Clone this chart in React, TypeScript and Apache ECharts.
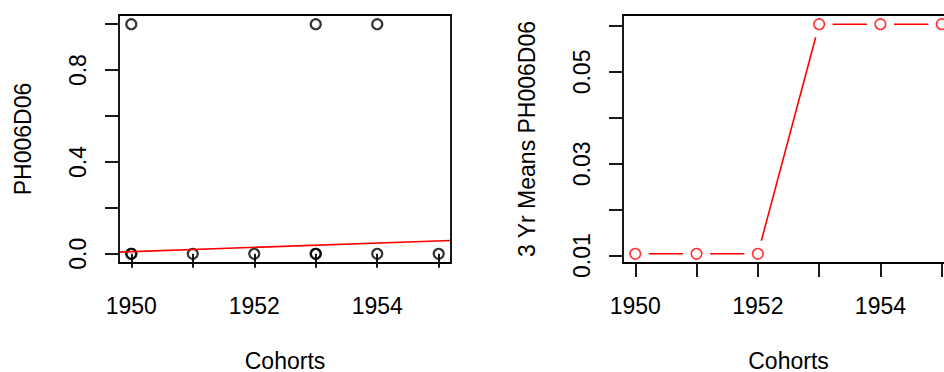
import React, { useEffect, useRef } from "react";
import * as echarts from "echarts";

// ---- data ----
const years = [1950, 1951, 1952, 1953, 1954, 1955];
const xLabelYears = [1950, 1952, 1954];

// left panel: individual observations
const cohortX = [1950, 1950, 1950, 1951, 1952, 1953, 1953, 1953, 1954, 1954, 1955];
const ph006d06 = [0, 0, 1, 0, 0, 0, 0, 1, 0, 1, 0];
// fitted regression line (value at 1950 and slope per year)
const fitAt1950 = 0.0093;
const fitSlope = 0.0094;
const leftYTicks = [0, 0.2, 0.4, 0.6, 0.8, 1.0];
const leftYLabels = [0, 0.4, 0.8];

// right panel: 3-year means
const threeYrMeans = [0.0104, 0.0104, 0.0104, 0.0604, 0.0604, 0.0604];
const rightYTicks = [0.01, 0.02, 0.03, 0.04, 0.05, 0.06];
const rightYLabels = [0.01, 0.03, 0.05];

const FONT = "Liberation Sans, Arial, Helvetica, sans-serif";
const FS = 23;
const AXIS_W = 1.8;

export default function App() {
  const ref = useRef<HTMLDivElement>(null);

  useEffect(() => {
    document.body.style.margin = "0";
    if (!ref.current) return;
    const chart = echarts.init(ref.current, null, { renderer: "svg" });

    const xMin = 1949.8;
    const xMax = 1955.2;

    const xAxisBase = (gridIndex: number) => ({
      type: "value" as const,
      gridIndex,
      min: xMin,
      max: xMax,
      z: 10,
      name: "Cohorts",
      nameLocation: "middle" as const,
      nameGap: 86,
      nameTextStyle: { fontSize: FS, fontFamily: FONT, color: "#000" },
      axisLine: { show: false },
      splitLine: { show: false },
      axisTick: {
        show: true,
        inside: false,
        length: 14,
        lineStyle: { color: "#000", width: AXIS_W },
        customValues: years,
      },
      axisLabel: {
        show: true,
        margin: 31,
        fontSize: FS,
        fontFamily: FONT,
        color: "#000",
        customValues: xLabelYears,
        formatter: (v: number) => String(Math.round(v)),
      },
    });

    const yAxisBase = (
      gridIndex: number,
      min: number,
      max: number,
      ticks: number[],
      labels: number[],
      digits: number,
      name: string
    ) => ({
      type: "value" as const,
      gridIndex,
      min,
      max,
      z: 10,
      name,
      nameLocation: "middle" as const,
      nameGap: 85,
      nameRotate: 90,
      nameTextStyle: { fontSize: FS, fontFamily: FONT, color: "#000" },
      axisLine: { show: false },
      splitLine: { show: false },
      axisTick: {
        show: true,
        inside: false,
        length: 14,
        lineStyle: { color: "#000", width: AXIS_W },
        customValues: ticks,
      },
      axisLabel: {
        show: true,
        rotate: 90,
        margin: 30,
        fontSize: FS,
        fontFamily: FONT,
        color: "#000",
        customValues: labels,
        formatter: (v: number) => v.toFixed(digits),
      },
    });

    const gridStyle = {
      show: true,
      borderColor: "#000",
      borderWidth: AXIS_W,
      backgroundColor: "transparent",
      z: 10,
      containLabel: false,
      outerBoundsMode: "none",
    };

    // segments between consecutive 3-yr-mean points (R type="b" draws them with gaps)
    const segments = years
      .slice(0, -1)
      .map((y, i) => [y, threeYrMeans[i], years[i + 1], threeYrMeans[i + 1]]);
    const GAP = 13.5;

    chart.setOption({
      animation: false,
      grid: [
        { ...gridStyle, left: 119, top: 15, width: 332, height: 248 },
        { ...gridStyle, left: 623, top: 15, width: 331, height: 248 },
      ],
      xAxis: [xAxisBase(0), xAxisBase(1)],
      yAxis: [
        yAxisBase(0, -0.04, 1.04, leftYTicks, leftYLabels, 1, "PH006D06"),
        yAxisBase(1, 0.0084, 0.0624, rightYTicks, rightYLabels, 2, "3 Yr Means PH006D06"),
      ],
      series: [
        {
          type: "scatter",
          xAxisIndex: 0,
          yAxisIndex: 0,
          z: 2,
          symbol: "circle",
          symbolSize: 10,
          itemStyle: { color: "transparent", borderColor: "#000", borderWidth: 2.2 },
          emphasis: { disabled: true },
          data: cohortX.map((x, i) => [x, ph006d06[i]]),
        },
        {
          type: "line",
          xAxisIndex: 0,
          yAxisIndex: 0,
          z: 3,
          showSymbol: false,
          clip: true,
          lineStyle: { color: "#ff0000", width: 1.6 },
          emphasis: { disabled: true },
          data: [
            [xMin, fitAt1950 + fitSlope * (xMin - 1950)],
            [xMax, fitAt1950 + fitSlope * (xMax - 1950)],
          ],
        },
        {
          type: "custom",
          xAxisIndex: 1,
          yAxisIndex: 1,
          z: 2,
          silent: true,
          encode: { x: [0, 2], y: [1, 3] },
          data: segments,
          renderItem: (_params: any, api: any) => {
            const p0 = api.coord([api.value(0), api.value(1)]);
            const p1 = api.coord([api.value(2), api.value(3)]);
            const dx = p1[0] - p0[0];
            const dy = p1[1] - p0[1];
            const len = Math.sqrt(dx * dx + dy * dy);
            if (len <= 2 * GAP) return null;
            const ux = dx / len;
            const uy = dy / len;
            return {
              type: "line",
              shape: {
                x1: p0[0] + ux * GAP,
                y1: p0[1] + uy * GAP,
                x2: p1[0] - ux * GAP,
                y2: p1[1] - uy * GAP,
              },
              style: { stroke: "#ff0000", lineWidth: 1.6 },
            };
          },
        },
        {
          type: "scatter",
          xAxisIndex: 1,
          yAxisIndex: 1,
          z: 3,
          symbol: "circle",
          symbolSize: 10.5,
          itemStyle: { color: "transparent", borderColor: "#ff0000", borderWidth: 1.6 },
          emphasis: { disabled: true },
          data: years.map((y, i) => [y, threeYrMeans[i]]),
        },
      ],
    });

    return () => chart.dispose();
  }, []);

  return <div ref={ref} style={{ width: 944, height: 372 }} />;
}
